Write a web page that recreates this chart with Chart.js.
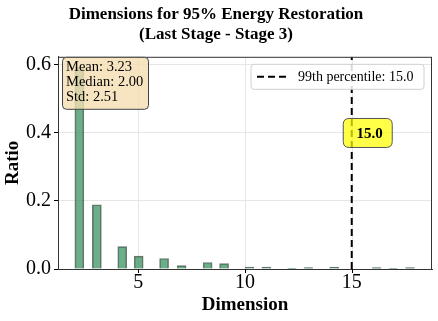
<!DOCTYPE html>
<html lang="en">
<head>
<meta charset="UTF-8">
<title>Dimensions for 95% Energy Restoration</title>
<script src="https://cdn.jsdelivr.net/npm/chart.js"></script>
<style>
  body { margin: 0; background: #fff; }
  #box { width: 438px; height: 321px; }
</style>
</head>
<body>
<div id="box"><canvas id="grafico" width="438" height="321"></canvas></div>
<script>
  // histogram bars (bin centre -> ratio)
  var dims = [2.24, 3.06, 4.25, 5.02, 6.21, 7.03, 8.25, 9.02, 10.21, 11.0, 12.2, 12.97, 14.18, 16.17, 16.94, 17.73];
  var ratios = [0.594, 0.189, 0.066, 0.038, 0.031, 0.010, 0.019, 0.016, 0.006, 0.006, 0.002, 0.004, 0.006, 0.004, 0.002, 0.004];

  var xTicks = [5, 10, 15];
  var yTicks = [0, 0.2, 0.4, 0.6];
  var xMin = 1.24, xMax = 18.76;
  var yMax = 0.624;

  var p99 = 15.0;
  var statLines = ['Mean: 3.23', 'Median: 2.00', 'Std: 2.51'];
  var fonte = 'Liberation Serif';

  function roundRect(ctx, x, y, w, h, r) {
    ctx.beginPath();
    ctx.moveTo(x + r, y);
    ctx.lineTo(x + w - r, y);
    ctx.quadraticCurveTo(x + w, y, x + w, y + r);
    ctx.lineTo(x + w, y + h - r);
    ctx.quadraticCurveTo(x + w, y + h, x + w - r, y + h);
    ctx.lineTo(x + r, y + h);
    ctx.quadraticCurveTo(x, y + h, x, y + h - r);
    ctx.lineTo(x, y + r);
    ctx.quadraticCurveTo(x, y, x + r, y);
    ctx.closePath();
  }

  var extras = {
    id: 'extras',
    beforeDatasetsDraw: function (chart) {
      // vertical grid lines at the x ticks
      var ctx = chart.ctx, a = chart.chartArea, sx = chart.scales.x;
      ctx.save();
      ctx.strokeStyle = '#e6e6e6';
      ctx.lineWidth = 1;
      xTicks.forEach(function (t) {
        var p = Math.round(sx.getPixelForValue(t)) + 0.5;
        ctx.beginPath();
        ctx.moveTo(p, a.top);
        ctx.lineTo(p, a.bottom);
        ctx.stroke();
      });
      ctx.restore();
    },
    afterDraw: function (chart) {
      var ctx = chart.ctx;
      var a = chart.chartArea;
      var sx = chart.scales.x, sy = chart.scales.y;
      ctx.save();

      // frame round the axes
      ctx.strokeStyle = '#333';
      ctx.lineWidth = 1;
      ctx.strokeRect(a.left + 0.5, a.top + 0.5, a.right - a.left - 1, a.bottom - a.top);

      // x tick marks and labels
      ctx.strokeStyle = '#000';
      ctx.fillStyle = '#000';
      ctx.font = '20px "' + fonte + '"';
      ctx.textAlign = 'center';
      ctx.textBaseline = 'middle';
      xTicks.forEach(function (t) {
        var x = sx.getPixelForValue(t);
        var p = Math.round(x) + 0.5;
        ctx.beginPath();
        ctx.moveTo(p, a.bottom);
        ctx.lineTo(p, a.bottom + 4);
        ctx.stroke();
        ctx.fillText(String(t), x, a.bottom + 14);
      });

      // stats box, top left
      roundRect(ctx, a.left + 4.5, a.top + 0.5, 86, 52, 4);
      ctx.fillStyle = 'rgba(245,222,179,0.8)';
      ctx.fill();
      ctx.strokeStyle = '#444';
      ctx.stroke();
      ctx.fillStyle = '#000';
      ctx.font = '14.5px "' + fonte + '"';
      ctx.textAlign = 'left';
      statLines.forEach(function (t, i) {
        ctx.fillText(t, a.left + 8, a.top + 10 + i * 15.3);
      });

      // legend, top right
      var lx = a.right - 181, ly = a.top + 7.5;
      roundRect(ctx, lx, ly, 173, 25, 3);
      ctx.fillStyle = 'rgba(255,255,255,0.85)';
      ctx.fill();
      ctx.strokeStyle = '#d0d0d0';
      ctx.stroke();
      ctx.beginPath();
      ctx.setLineDash([7, 4]);
      ctx.lineWidth = 2;
      ctx.strokeStyle = '#000';
      ctx.moveTo(lx + 6, ly + 12.5);
      ctx.lineTo(lx + 36, ly + 12.5);
      ctx.stroke();
      ctx.setLineDash([]);
      ctx.fillStyle = '#000';
      ctx.font = '14px "' + fonte + '"';
      ctx.fillText(chart.data.datasets[1].label, lx + 47, ly + 13);

      // yellow label on the percentile line
      var px = sx.getPixelForValue(p99), py = sy.getPixelForValue(0.4);
      roundRect(ctx, px - 8.5, py - 14.5, 49, 29, 6);
      ctx.fillStyle = 'rgba(255,255,0,0.72)';
      ctx.fill();
      ctx.lineWidth = 1;
      ctx.strokeStyle = '#555';
      ctx.stroke();
      ctx.fillStyle = '#000';
      ctx.font = 'bold 15px "' + fonte + '"';
      ctx.textAlign = 'center';
      ctx.fillText(p99.toFixed(1), px + 18, py + 1);
      ctx.restore();
    }
  };

  var config = {
    data: {
      datasets: [{
        type: 'bar',
        label: 'Dimension',
        data: dims.map(function (d, i) { return { x: d, y: ratios[i] }; }),
        backgroundColor: 'rgba(46,139,87,0.7)',
        borderColor: 'rgba(70,70,70,0.75)',
        borderWidth: 1,
        barThickness: 9,
        order: 2
      }, {
        type: 'line',
        label: '99th percentile: ' + p99.toFixed(1),
        data: [{ x: p99, y: 0 }, { x: p99, y: yMax }],
        borderColor: '#000',
        borderWidth: 2,
        borderDash: [7, 4],
        pointRadius: 0,
        order: 1
      }]
    },
    options: {
      responsive: false,
      animation: false,
      layout: { padding: { right: 6 } },
      plugins: {
        legend: { display: false },
        tooltip: { enabled: false },
        title: {
          display: true,
          text: ['Dimensions for 95% Energy Restoration', '(Last Stage - Stage 3)'],
          color: '#000',
          font: { family: fonte, size: 17, weight: 'bold', lineHeight: 1.2 },
          padding: { top: 4, bottom: 12 }
        }
      },
      scales: {
        x: {
          type: 'linear',
          offset: false,
          min: xMin,
          max: xMax,
          afterFit: function (s) { s.height = 52; },
          ticks: { display: false },
          grid: { display: false },
          border: { color: '#333' },
          title: { display: true, text: 'Dimension', color: '#000', font: { family: fonte, size: 19, weight: 'bold' }, padding: { top: 0, bottom: 5 } }
        },
        y: {
          min: 0,
          max: yMax,
          afterBuildTicks: function (s) { s.ticks = yTicks.map(function (v) { return { value: v }; }); },
          afterFit: function (s) { s.width = 58; },
          ticks: { color: '#000', font: { family: fonte, size: 20 }, padding: 3, autoSkip: false, callback: function (v) { return v.toFixed(1); } },
          grid: { color: '#e6e6e6', tickColor: '#000', tickLength: 4 },
          border: { color: '#333' },
          title: { display: true, text: 'Ratio', color: '#000', font: { family: fonte, size: 19, weight: 'bold' }, padding: 2 }
        }
      }
    },
    plugins: [extras]
  };

  new Chart(document.getElementById('grafico'), config);
</script>
</body>
</html>
